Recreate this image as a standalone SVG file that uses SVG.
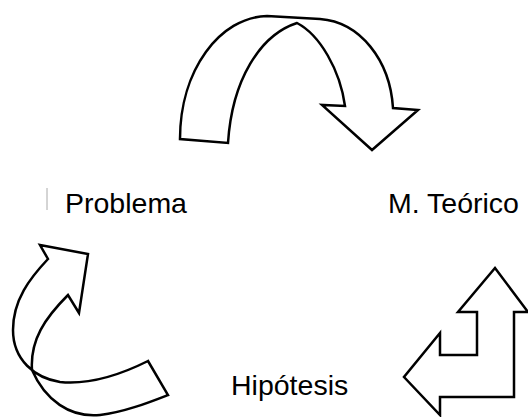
<svg xmlns="http://www.w3.org/2000/svg" width="528" height="417" viewBox="0 0 528 417">
<style>
.arrow{fill:#fff;stroke:#000;stroke-width:2.5;stroke-linejoin:miter}
.lbl{font-family:"Liberation Sans",Arial,sans-serif;font-size:28.5px;fill:#000}
</style>
<rect width="528" height="417" fill="#fff"/>
<g id="connectors">
<path id="arrow-top" class="arrow" d="M180,139 C180,70 220,17 267,16 L320,19 C360,22 390,60 393,108 L418,110 L372,150 L322,105 L345,106 C340,70 320,35 297,23 C260,35 232,80 228,143 Z"/>
<path id="arrow-right" class="arrow" d="M495,268 L528,312 L514,312 L514,397 L440,397 L440,415 L404,377 L440,333 L440,355 L477,355 L477,312 L458,312 Z"/>
<path id="arrow-left" class="arrow" d="M79,313 L68,295 C45,318 30,340 32,370 C45,400 70,418 100,415 C125,412 150,402 168,395 L148,361 C120,375 90,385 60,382 C35,378 13,360 13,330 C13,300 30,278 48,259 L40,245 L88,254 Z"/>
</g>
<line x1="47" y1="188" x2="47" y2="210" stroke="#aaa" stroke-width="1"/>
<g id="problema"><text class="lbl" x="65" y="213">Problema</text></g>
<g id="mteorico"><text class="lbl" x="388" y="213">M. Teórico</text></g>
<g id="hipotesis"><text class="lbl" x="231" y="395">Hipótesis</text></g>
</svg>
